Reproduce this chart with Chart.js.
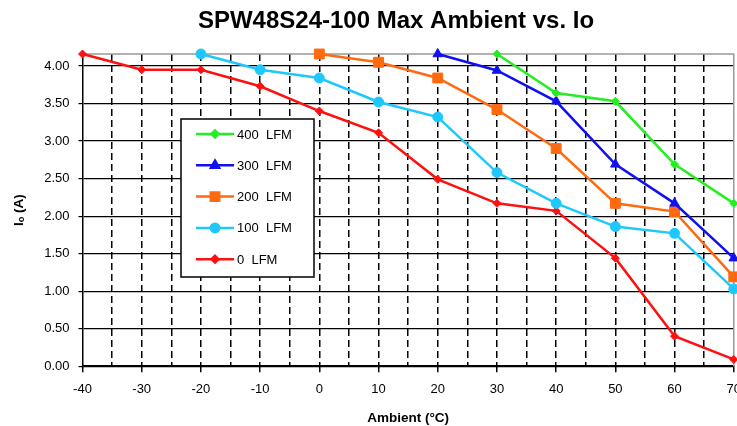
<!DOCTYPE html>
<html>
<head>
<meta charset="utf-8">
<script src="https://cdn.jsdelivr.net/npm/chart.js@4.4.1/dist/chart.umd.min.js"></script>
<style>
html, body { margin: 0; padding: 0; background: #fff; overflow: hidden; }
#wrap { width: 750px; height: 426px; position: relative; }
</style>
</head>
<body>
<div id="wrap"><canvas id="chart"></canvas></div>
<script>
// data
const ambient = [-40, -30, -20, -10, 0, 10, 20, 30, 40, 50, 60, 70];
const lfm400 = [null, null, null, null, null, null, null, 4.16, 3.64, 3.53, 2.69, 2.17];
const lfm300 = [null, null, null, null, null, null, 4.16, 3.94, 3.53, 2.69, 2.17, 1.44];
const lfm200 = [null, null, null, null, 4.16, 4.05, 3.84, 3.42, 2.90, 2.17, 2.06, 1.19];
const lfm100 = [null, null, 4.16, 3.95, 3.84, 3.52, 3.32, 2.58, 2.17, 1.86, 1.77, 1.03];
const lfm0 = [4.16, 3.95, 3.95, 3.73, 3.40, 3.11, 2.49, 2.17, 2.07, 1.44, 0.40, 0.09];
const seriesLabels = ['400  LFM', '300  LFM', '200  LFM', '100  LFM', '0  LFM'];
const yTicks = [0, 0.5, 1, 1.5, 2, 2.5, 3, 3.5, 4];

const FONT = "'Liberation Sans', Arial, sans-serif";

function toPoints(values) {
    return ambient.map((x, i) => ({ x: x, y: values[i] }));
}

function makeSeries(label, values, color, style, radius) {
    return {
        label: label,
        data: toPoints(values),
        borderColor: color,
        backgroundColor: color,
        borderWidth: 2.5,
        pointStyle: style,
        pointRadius: radius,
        pointHoverRadius: radius,
        pointBorderWidth: 1,
        clip: false,
        tension: 0
    };
}

// chart title (sits a bit left of the plot centre in the original)
const titlePlugin = {
    id: 'plotTitle',
    afterDraw(chart) {
        const ctx = chart.ctx;
        ctx.save();
        ctx.font = 'bold 24px ' + FONT;
        ctx.fillStyle = '#000';
        ctx.textAlign = 'center';
        ctx.textBaseline = 'middle';
        ctx.fillText('SPW48S24-100 Max Ambient vs. Io', 396, 21);
        ctx.restore();
    }
};

// grey frame on top and right
const framePlugin = {
    id: 'frame',
    beforeDatasetsDraw(chart) {
        const ctx = chart.ctx;
        const a = chart.chartArea;
        ctx.save();
        ctx.strokeStyle = '#999';
        ctx.lineWidth = 1.5;
        ctx.beginPath();
        ctx.moveTo(a.left, a.top);
        ctx.lineTo(a.right, a.top);
        ctx.lineTo(a.right, a.bottom);
        ctx.stroke();
        ctx.restore();
    }
};

// boxed legend sitting inside the plot
const boxLegend = {
    id: 'boxLegend',
    afterDraw(chart) {
        const ctx = chart.ctx;
        const bx = 181, by = 119, bw = 133, bh = 158;
        ctx.save();
        ctx.fillStyle = '#fff';
        ctx.fillRect(bx, by, bw, bh);
        ctx.strokeStyle = '#000';
        ctx.lineWidth = 1.5;
        ctx.strokeRect(bx, by, bw, bh);
        ctx.font = '13px ' + FONT;
        ctx.textBaseline = 'middle';
        chart.data.datasets.forEach((ds, i) => {
            const y = by + 15 + i * 31.3;
            ctx.strokeStyle = ds.borderColor;
            ctx.lineWidth = 2.5;
            ctx.beginPath();
            ctx.moveTo(bx + 15, y);
            ctx.lineTo(bx + 53, y);
            ctx.stroke();
            ctx.fillStyle = ds.backgroundColor;
            Chart.helpers.drawPoint(ctx, {
                pointStyle: ds.pointStyle,
                radius: ds.pointRadius * 0.85,
                borderWidth: 1,
                rotation: 0
            }, bx + 34, y);
            ctx.fillStyle = '#000';
            ctx.fillText(ds.label, bx + 56, y + 1);
        });
        ctx.restore();
    }
};

new Chart(document.getElementById('chart').getContext('2d'), {
    type: 'line',
    data: {
        datasets: [
            makeSeries(seriesLabels[0], lfm400, '#22ee22', 'rectRot', 4),
            makeSeries(seriesLabels[1], lfm300, '#1010f0', 'triangle', 5.5),
            makeSeries(seriesLabels[2], lfm200, '#ff6a10', 'rect', 7),
            makeSeries(seriesLabels[3], lfm100, '#1ec8ff', 'circle', 5),
            makeSeries(seriesLabels[4], lfm0, '#ff1010', 'rectRot', 4)
        ]
    },
    options: {
        responsive: true,
        maintainAspectRatio: false,
        animation: false,
        layout: { padding: { top: 54, left: 8, right: 3, bottom: 0 } },
        plugins: {
            legend: { display: false },
            title: { display: false },
            tooltip: { enabled: false }
        },
        scales: {
            x: {
                type: 'linear',
                min: -40,
                max: 70,
                ticks: {
                    stepSize: 5,
                    autoSkip: false,
                    maxRotation: 0,
                    color: '#000',
                    font: { family: FONT, size: 13 },
                    padding: 9,
                    callback: v => (v % 10 === 0 ? v : '')
                },
                grid: {
                    color: c => (c.tick.value === -40 || c.tick.value === 70) ? 'rgba(0,0,0,0)' : '#000',
                    lineWidth: 1.5,
                    tickColor: c => (c.tick.value % 10 === 0) ? '#000' : 'rgba(0,0,0,0)',
                    tickLength: 6,
                    tickWidth: 1.5
                },
                border: { color: '#000', width: 1.5, dash: [7, 4] },
                title: {
                    display: true,
                    text: 'Ambient (°C)',
                    color: '#000',
                    font: { family: FONT, size: 13.5, weight: 'bold' },
                    padding: { top: 4, bottom: 0 }
                }
            },
            y: {
                min: 0,
                max: 4.16,
                afterBuildTicks: axis => {
                    axis.ticks = yTicks.map(v => ({ value: v }));
                },
                ticks: {
                    color: '#000',
                    font: { family: FONT, size: 13 },
                    padding: 9,
                    callback: v => v.toFixed(2)
                },
                grid: {
                    color: '#000',
                    lineWidth: 1.2,
                    tickLength: 4,
                    tickWidth: 1.2
                },
                border: { color: '#000', width: 1.5 },
                title: {
                    display: true,
                    text: 'Iₒ (A)',
                    color: '#000',
                    font: { family: FONT, size: 13.5, weight: 'bold' },
                    padding: { top: 3, bottom: 8 }
                }
            }
        }
    },
    plugins: [titlePlugin, framePlugin, boxLegend]
});
</script>
</body>
</html>
